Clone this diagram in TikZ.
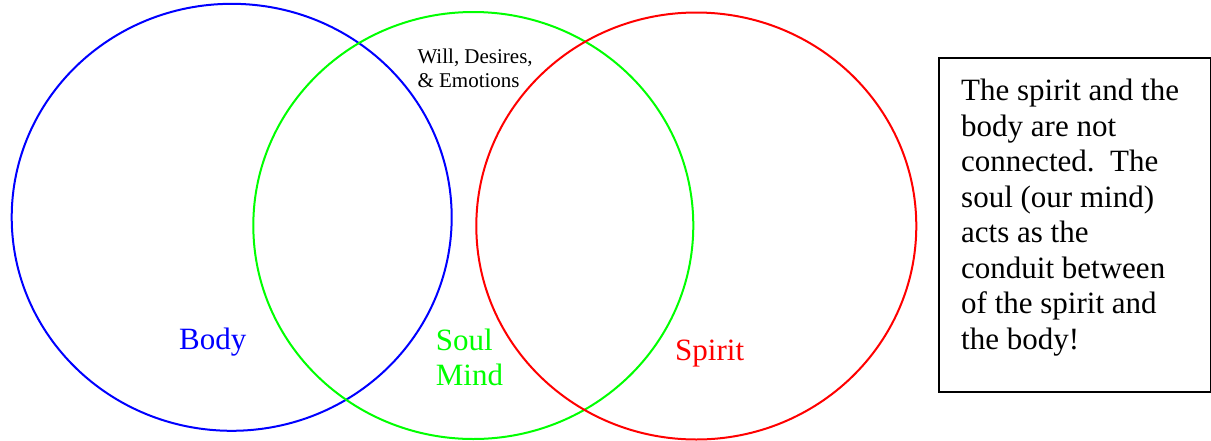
\documentclass[tikz,border=0pt]{standalone}
\usepackage{fontspec}
\setmainfont{Liberation Serif}
\usetikzlibrary{shapes.geometric}
\definecolor{soulgreen}{RGB}{0,255,0}
\tikzset{
  ring/.style={ellipse, draw=#1, line width=2pt, minimum width=440pt, minimum height=427pt, inner sep=0pt},
  lbl/.style={anchor=base west, inner sep=0pt, font=\fontsize{31}{35}\selectfont, text=#1},
}
\begin{document}
\begin{tikzpicture}[x=1pt,y=-1pt]
\useasboundingbox (0,0) rectangle (1211,440);
\node[ring=blue] (bodyring) at (231.7,217.3) {};
\node[ring=soulgreen] (soulring) at (473.3,225.5) {};
\node[ring=red] (spiritring) at (696.3,226) {};
\node[lbl=blue] (body) at (179,349) {Body};
\node[lbl=soulgreen, align=left] (soul) at (435.7,385) {Soul\\Mind};
\node[lbl=red] (spirit) at (675,360) {Spirit};
\node[anchor=base west, inner sep=0pt, align=left, font=\fontsize{21}{24}\selectfont] (will) at (417.3,87.3) {Will, Desires,\\\& Emotions};
\node[draw, line width=2pt, minimum width=272pt, minimum height=334pt, inner sep=0pt] (box) at (1074.5,225) {};
\node[anchor=base west, inner sep=0pt, align=left, font=\fontsize{31}{35.5}\selectfont] (note) at (961,349) {The spirit and the\\body are not\\connected.\ \ The\\soul (our mind)\\acts as the\\conduit between\\of the spirit and\\the body!};
\end{tikzpicture}
\end{document}
